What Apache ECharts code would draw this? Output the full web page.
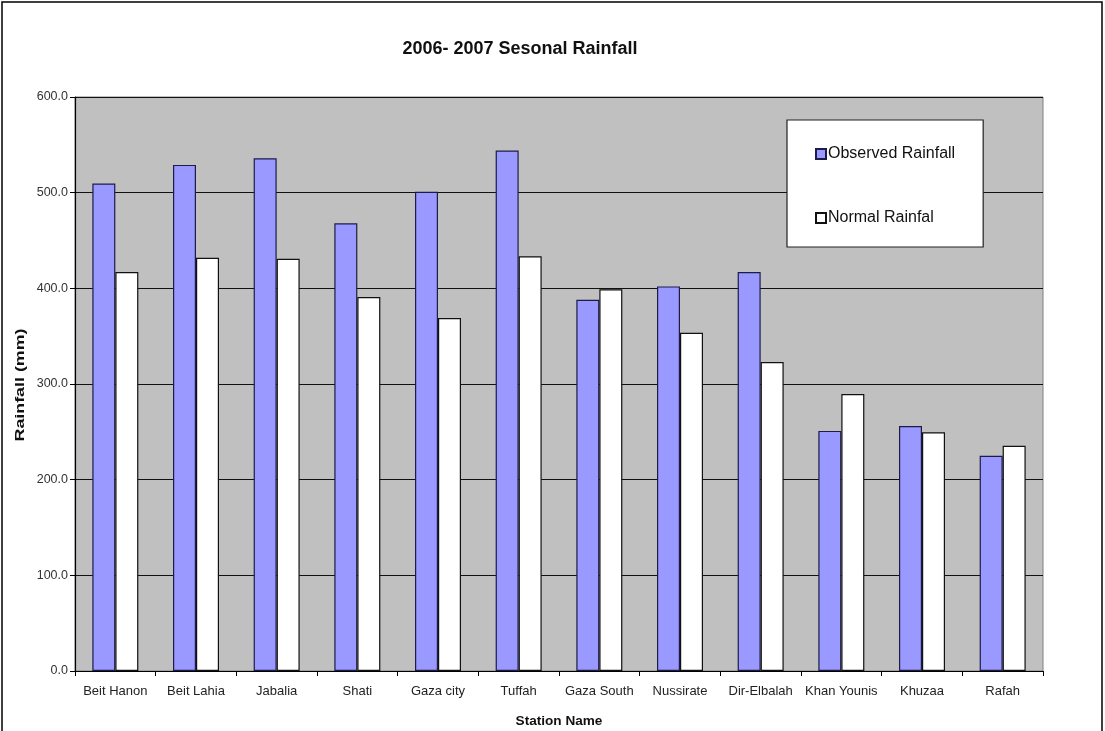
<!DOCTYPE html>
<html>
<head>
<meta charset="utf-8">
<script src="https://cdn.jsdelivr.net/npm/echarts@6/dist/echarts.min.js"></script>
<style>
  html, body { margin: 0; padding: 0; background: #fff; }
  #chart { width: 1105px; height: 731px; }
</style>
</head>
<body>
<div id="chart"></div>
<script>
// Seasonal rainfall per station, 2006-2007 (mm)
const stations = ['Beit Hanon', 'Beit Lahia', 'Jabalia', 'Shati', 'Gaza city', 'Tuffah',
  'Gaza South', 'Nussirate', 'Dir-Elbalah', 'Khan Younis', 'Khuzaa', 'Rafah'];
const observedRainfall = [509.5, 529, 536, 468, 501, 544, 388, 402, 417, 251, 256, 225];
const normalRainfall = [417, 432, 431, 391, 369, 433.5, 399, 353.5, 323, 289.5, 249.5, 235.5];

const FONT = '"Liberation Sans", Arial, sans-serif';

const chart = echarts.init(document.getElementById('chart'), null, { renderer: 'canvas' });

chart.setOption({
  backgroundColor: '#ffffff',
  animation: false,
  title: {
    text: '2006- 2007 Sesonal Rainfall',
    left: 515,
    textAlign: 'center',
    top: 35,
    textStyle: { fontFamily: FONT, fontSize: 18, fontWeight: 'bold', color: '#111' }
  },
  legend: {
    orient: 'vertical',
    left: 787,
    top: 120,
    width: 196,
    padding: [26, 28, 21, 28],
    itemWidth: 10,
    itemHeight: 10,
    itemGap: 48,
    backgroundColor: '#ffffff',
    borderColor: '#222',
    borderWidth: 1.2,
    icon: 'rect',
    textStyle: { fontFamily: FONT, fontSize: 16, color: '#111', padding: [0, 0, 0, -3] },
    data: ['Observed Rainfall', 'Normal Rainfal']
  },
  graphic: [
    {
      // outer frame of the chart
      type: 'rect',
      shape: { x: 2, y: 2, width: 1100, height: 740 },
      style: { fill: 'none', stroke: '#000', lineWidth: 1.5 },
      silent: true
    },
    {
      // value axis title, drawn tall and narrow
      type: 'text',
      x: 20,
      y: 385,
      rotation: Math.PI / 2,
      scaleX: 1.32,
      style: {
        text: 'Rainfall (mm)',
        font: 'bold 13.5px ' + FONT,
        fill: '#111',
        align: 'center',
        verticalAlign: 'middle'
      },
      silent: true
    }
  ],
  grid: {
    left: 75,
    right: 62,
    top: 97,
    bottom: 60,
    outerBoundsMode: 'none',
    show: true,
    backgroundColor: '#c0c0c0',
    borderColor: '#808080',
    borderWidth: 1
  },
  xAxis: {
    type: 'category',
    data: stations,
    name: 'Station Name',
    nameLocation: 'middle',
    nameGap: 43,
    nameTextStyle: { fontFamily: FONT, fontSize: 13.6, fontWeight: 'bold', color: '#111' },
    axisLine: { lineStyle: { color: '#000', width: 1.2 } },
    axisTick: { show: true, alignWithLabel: false, length: 5, lineStyle: { color: '#000' } },
    axisLabel: { fontFamily: FONT, fontSize: 13, color: '#222', margin: 14, interval: 0 },
    splitLine: { show: false }
  },
  yAxis: {
    type: 'value',
    min: 0,
    max: 600,
    interval: 100,
    axisLine: { show: true, lineStyle: { color: '#000', width: 1.2 } },
    axisTick: { show: true, length: 5, lineStyle: { color: '#000' } },
    axisLabel: {
      fontFamily: FONT, fontSize: 12.5, color: '#333', margin: 7,
      formatter: v => v.toFixed(1)
    },
    splitLine: { show: true, lineStyle: { color: '#111', width: 1.2 } }
  },
  series: [
    {
      name: 'Observed Rainfall',
      type: 'bar',
      data: observedRainfall,
      barWidth: 23,
      barGap: '0%',
      itemStyle: { color: '#9999ff', borderColor: '#1c1c48', borderWidth: 1.2 }
    },
    {
      name: 'Normal Rainfal',
      type: 'bar',
      data: normalRainfall,
      barWidth: 23,
      itemStyle: { color: '#ffffff', borderColor: '#111', borderWidth: 1.2 }
    }
  ]
});
</script>
</body>
</html>
